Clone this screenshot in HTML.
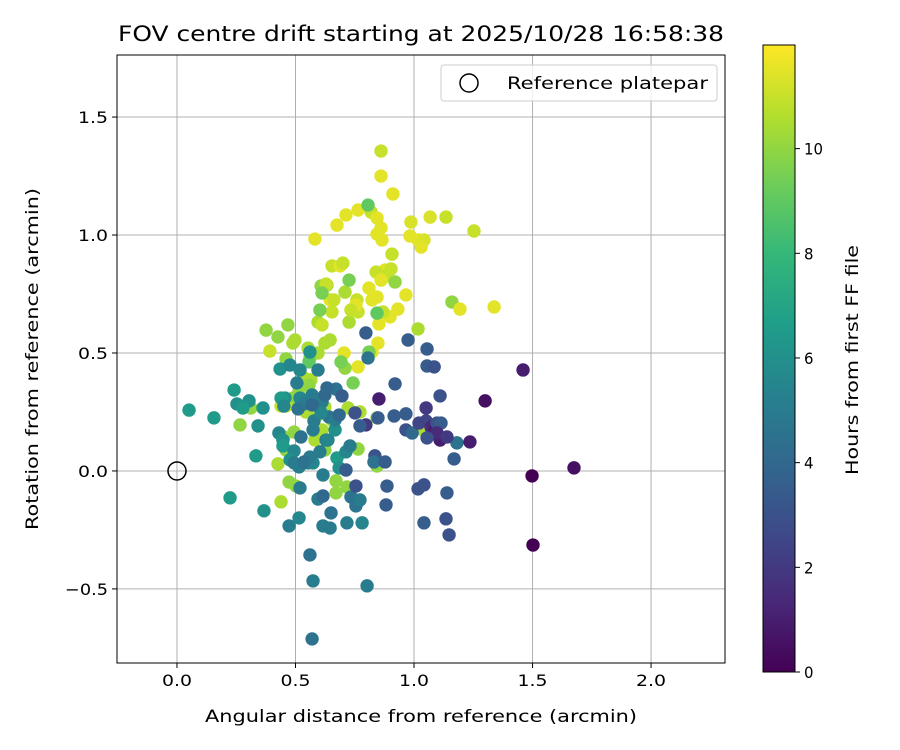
<!DOCTYPE html>
<html><head><meta charset="utf-8"><style>
body{margin:0;background:#fff}
svg{display:block;font-family:"DejaVu Sans","Liberation Sans",sans-serif}
</style></head><body>
<svg id="chart" width="900" height="750" viewBox="0 0 900 750" xmlns="http://www.w3.org/2000/svg">
<defs><linearGradient id="vir" x1="0" y1="1" x2="0" y2="0"></linearGradient></defs>
<rect width="900" height="750" fill="#fff"/>
<g id="grid"></g>
<g id="pts"></g>
<circle cx="177" cy="471" r="9" fill="none" stroke="#000" stroke-width="1.5"/>
<rect x="117" y="55" width="608" height="608" fill="none" stroke="#000" stroke-width="1"/>
<g id="ticks" font-size="16" fill="#000"></g>
<text x="421" y="41" font-size="21" text-anchor="middle" textLength="606" lengthAdjust="spacingAndGlyphs">FOV centre drift starting at 2025/10/28 16:58:38</text>
<text x="421" y="722" font-size="16.5" text-anchor="middle" textLength="432" lengthAdjust="spacingAndGlyphs">Angular distance from reference (arcmin)</text>
<text transform="translate(38,359) rotate(-90)" font-size="16.5" text-anchor="middle" textLength="342" lengthAdjust="spacingAndGlyphs">Rotation from reference (arcmin)</text>
<g>
<rect x="441" y="65" width="276" height="36" rx="3" fill="#fff" fill-opacity="0.8" stroke="#ccc"/>
<circle cx="469" cy="83" r="9" fill="none" stroke="#000" stroke-width="1.5"/>
<text x="507" y="89" font-size="16.5" textLength="201" lengthAdjust="spacingAndGlyphs">Reference platepar</text>
</g>
<g id="cbar">
<rect x="763" y="45" width="32" height="627" fill="url(#vir)" stroke="#000" stroke-width="1"/>
</g>
<text transform="translate(858,360) rotate(-90)" font-size="16.5" text-anchor="middle" textLength="230" lengthAdjust="spacingAndGlyphs">Hours from first FF file</text>
</svg>
<script>
const xs=[0.861,0.861,0.911,0.819,0.764,0.713,0.675,0.582,0.844,0.861,0.844,0.865,0.987,1.068,1.135,1.253,0.983,1.017,1.042,1.030,0.907,0.878,0.840,0.882,0.903,0.920,0.861,0.844,0.823,0.810,0.709,0.759,0.764,0.755,0.654,0.688,0.700,0.633,0.608,0.629,0.646,0.662,0.595,0.612,0.726,0.734,0.654,0.852,0.899,0.932,0.869,0.966,0.705,0.848,0.823,0.764,1.160,1.194,1.338,1.017,0.376,0.426,0.468,0.392,0.498,0.489,0.460,0.553,0.595,0.561,0.624,0.646,0.709,0.565,0.536,0.557,0.515,0.494,0.489,0.477,0.460,0.439,0.624,0.654,0.586,0.544,0.612,0.582,0.624,0.722,0.772,0.844,0.764,0.844,0.671,0.671,0.717,0.473,0.502,0.439,0.519,0.460,0.494,0.451,0.426,0.312,0.266,1.038,0.743,0.844,0.726,0.806,0.692,0.810,0.612,0.603,0.557,
0.051,0.156,0.224,0.333,0.241,0.253,0.304,0.278,0.363,0.342,0.367,0.473,0.515,0.519,0.595,0.616,0.646,0.650,0.561,0.574,0.802,0.570,0.435,0.477,0.506,0.519,0.595,0.561,0.456,0.439,0.451,0.519,0.536,0.511,0.430,0.447,0.447,0.494,0.477,0.494,0.515,0.553,0.574,0.561,0.603,0.629,0.637,0.667,0.675,0.616,0.684,0.713,0.730,0.734,0.751,0.755,0.772,0.717,0.781,0.574,0.578,0.536,0.570,0.641,0.612,0.667,0.608,
0.852,0.797,0.975,1.055,1.055,1.085,0.920,1.110,1.051,0.966,0.916,0.966,0.992,1.021,1.051,1.072,1.089,1.110,1.097,1.114,1.169,1.181,1.236,1.300,1.460,1.498,1.502,1.675,1.097,1.139,1.055,1.017,1.042,1.139,1.042,1.135,1.148,0.886,0.882,0.835,0.831,0.878,0.713,0.755,0.848,0.797,0.772,0.751,0.806,0.570,0.671,0.633,0.624,0.696,0.684,0.616,0.523];
const ys=[1.250,1.356,1.174,1.097,1.106,1.085,1.042,0.983,1.072,1.030,1.004,0.979,1.055,1.076,1.076,1.017,0.996,0.979,0.979,0.949,0.919,0.852,0.843,0.826,0.856,0.801,0.809,0.737,0.725,0.775,0.758,0.725,0.674,0.703,0.869,0.869,0.881,0.788,0.784,0.792,0.725,0.725,0.631,0.619,0.631,0.682,0.674,0.623,0.653,0.686,0.674,0.746,0.500,0.542,0.504,0.441,0.716,0.686,0.695,0.602,0.597,0.568,0.619,0.508,0.555,0.542,0.475,0.521,0.500,0.479,0.542,0.555,0.436,0.386,0.394,0.364,0.339,0.288,0.309,0.284,0.275,0.275,0.271,0.216,0.229,0.250,0.174,0.131,0.089,0.267,0.250,0.225,0.093,0.021,-0.042,-0.093,-0.068,-0.047,-0.064,-0.131,0.021,0.089,0.165,0.144,0.030,0.267,0.195,0.174,0.373,0.669,0.809,1.127,0.462,0.504,0.754,0.682,0.462,
0.258,0.225,-0.114,0.064,0.343,0.284,0.297,0.267,0.267,0.191,-0.169,-0.233,-0.199,-0.072,-0.119,-0.233,-0.242,-0.178,-0.356,-0.466,-0.487,-0.712,0.432,0.449,0.373,0.428,0.428,0.504,0.309,0.309,0.275,0.309,0.284,0.263,0.161,0.131,0.106,0.085,0.047,0.034,0.017,0.034,0.034,0.059,0.081,0.131,0.131,0.174,0.055,-0.017,0.013,0.081,0.106,-0.110,-0.123,-0.148,-0.123,-0.220,-0.220,0.174,0.212,0.038,0.322,0.229,0.292,0.216,0.246,
0.305,0.585,0.555,0.517,0.445,0.441,0.369,0.318,0.267,0.174,0.233,0.242,0.161,0.203,0.212,0.186,0.174,0.131,0.203,0.203,0.051,0.119,0.123,0.297,0.428,-0.021,-0.314,0.013,0.161,0.144,0.140,-0.076,-0.059,-0.093,-0.220,-0.203,-0.271,-0.064,-0.144,0.064,0.038,0.038,0.004,-0.064,0.225,0.195,0.191,0.246,0.479,0.280,0.347,0.352,0.322,0.318,0.237,-0.106,0.144];
const hours=[11.5,11,11.5,11,11.5,11.5,11.5,11.5,11.5,11.5,11.5,11.5,11.3,11.3,11,11,11.5,11.5,11.3,11.5,11,11.5,11,11,11,10,11.5,11.5,11.5,11.5,10.5,11,11,11.5,11,11.5,11,10.5,10,11,11.5,11,10.5,11,10.5,11,11,11.5,11.5,11.5,11,11.5,11.5,11.5,11.5,11.5,10,11.5,11.5,10.5,10,10,10,11,10.5,10.5,10,10.5,10.5,10,10.5,10.5,10,10.5,10.5,10,10,10.5,10,10,11,11,10.5,10,10.5,10.5,10.5,10.5,10,10.5,10.5,10,10,10,10,10,10,10,10,10.5,10.5,10,10,10,10.5,10,10,10.5,9.5,9,9.5,9,9.5,9.5,9.5,9.5,9,
6.5,6.5,6.5,6.5,6.5,6,6,6.5,6,6,6,5,5.5,5,5,5,5,4.5,4.5,5,5,4.5,6,5.5,5,5.5,5,6,6,6.5,5.5,5.5,5,4.5,5.5,6,6.5,5.5,6,5,5,5.5,5.5,5,5,5,5.5,6,6.5,5,6,5.5,5,4.5,4.5,4.5,5,5,5.5,5,5,4.5,5,4.5,5,5,5.5,
1,3.5,3.5,3.5,3.5,3,3.5,3,2,3,3.5,3.5,4,2.5,2.5,1.5,1,1,3,3.5,3.5,4.5,1,0.5,1,0,0,0.5,1.5,2,3,3,3,3.5,3.5,3,3,3.5,3.5,3,4.5,3.5,3.5,3,3.5,2,3.5,3,4.5,4,4.5,4,4,3.5,4,4,4.5];
const xTicks=[0.0,0.5,1.0,1.5,2.0];
const yTicks=[-0.5,0.0,0.5,1.0,1.5];
const cTicks=[0,2,4,6,8,10];
const X0=-0.253,X1=2.312,Y0=-0.814,Y1=1.763,H0=0,H1=11.98;
const L=117,R=725,T=55,B=663;
const sx=v=>L+(v-X0)/(X1-X0)*(R-L);
const sy=v=>B-(v-Y0)/(Y1-Y0)*(B-T);
const sc=v=>672-(v-H0)/(H1-H0)*627;
const VIR=[[68,1,84],[72,40,120],[62,74,137],[49,104,142],[38,130,142],[31,158,137],[53,183,121],[109,205,89],[180,222,44],[253,231,37]];
function vir(t){t=Math.max(0,Math.min(1,t));const f=t*9,i=Math.min(8,Math.floor(f)),u=f-i;const a=VIR[i],b=VIR[i+1];return 'rgb('+a.map((c,k)=>Math.round(c+(b[k]-c)*u)).join(',')+')';}
const NS='http://www.w3.org/2000/svg';
function mk(tag,attrs,parent){const e=document.createElementNS(NS,tag);for(const k in attrs)e.setAttribute(k,attrs[k]);parent.appendChild(e);return e;}
const grid=document.getElementById('grid'),ticks=document.getElementById('ticks'),pts=document.getElementById('pts');
const grad=document.getElementById('vir');
VIR.forEach((c,i)=>mk('stop',{offset:(i/9*100)+'%','stop-color':'rgb('+c.join(',')+')'},grad));
xTicks.forEach(v=>{const x=sx(v);
 const g=mk('line',{x1:x,x2:x,y1:T,y2:B,stroke:'#b0b0b0','stroke-width':1},grid);
 
 
 mk('line',{x1:x,x2:x,y1:B,y2:B+5,stroke:'#000'},ticks);
 const t=mk('text',{x:x,y:B+23,'text-anchor':'middle',textLength:30,lengthAdjust:'spacingAndGlyphs'},ticks);t.textContent=v.toFixed(1).replace('-','−');
 
 });
yTicks.forEach(v=>{const y=sy(v);
 const g=mk('line',{x1:L,x2:R,y1:y,y2:y,stroke:'#b0b0b0','stroke-width':1},grid);
 
 
 mk('line',{x1:L-5,x2:L,y1:y,y2:y,stroke:'#000'},ticks);
 const s=v.toFixed(1).replace('-','−');
 const t=mk('text',{x:L-9,y:y+6,'text-anchor':'end',textLength:s.length>3?43:30,lengthAdjust:'spacingAndGlyphs'},ticks);t.textContent=s;
 
 });
const cb=document.getElementById('cbar');
cTicks.forEach(v=>{const y=sc(v);
 mk('line',{x1:795,x2:800,y1:y,y2:y,stroke:'#000'},cb);
 const t=mk('text',{x:804,y:y+6,'font-size':16,textLength:String(v).length*9.5,lengthAdjust:'spacingAndGlyphs'},cb);t.textContent=v;
 
 });
xs.forEach((v,i)=>{
 const c=mk('circle',{cx:sx(v),cy:sy(ys[i]),r:6.7,fill:vir((hours[i]-H0)/(H1-H0))},pts);
 
 });
</script>
</body></html>
